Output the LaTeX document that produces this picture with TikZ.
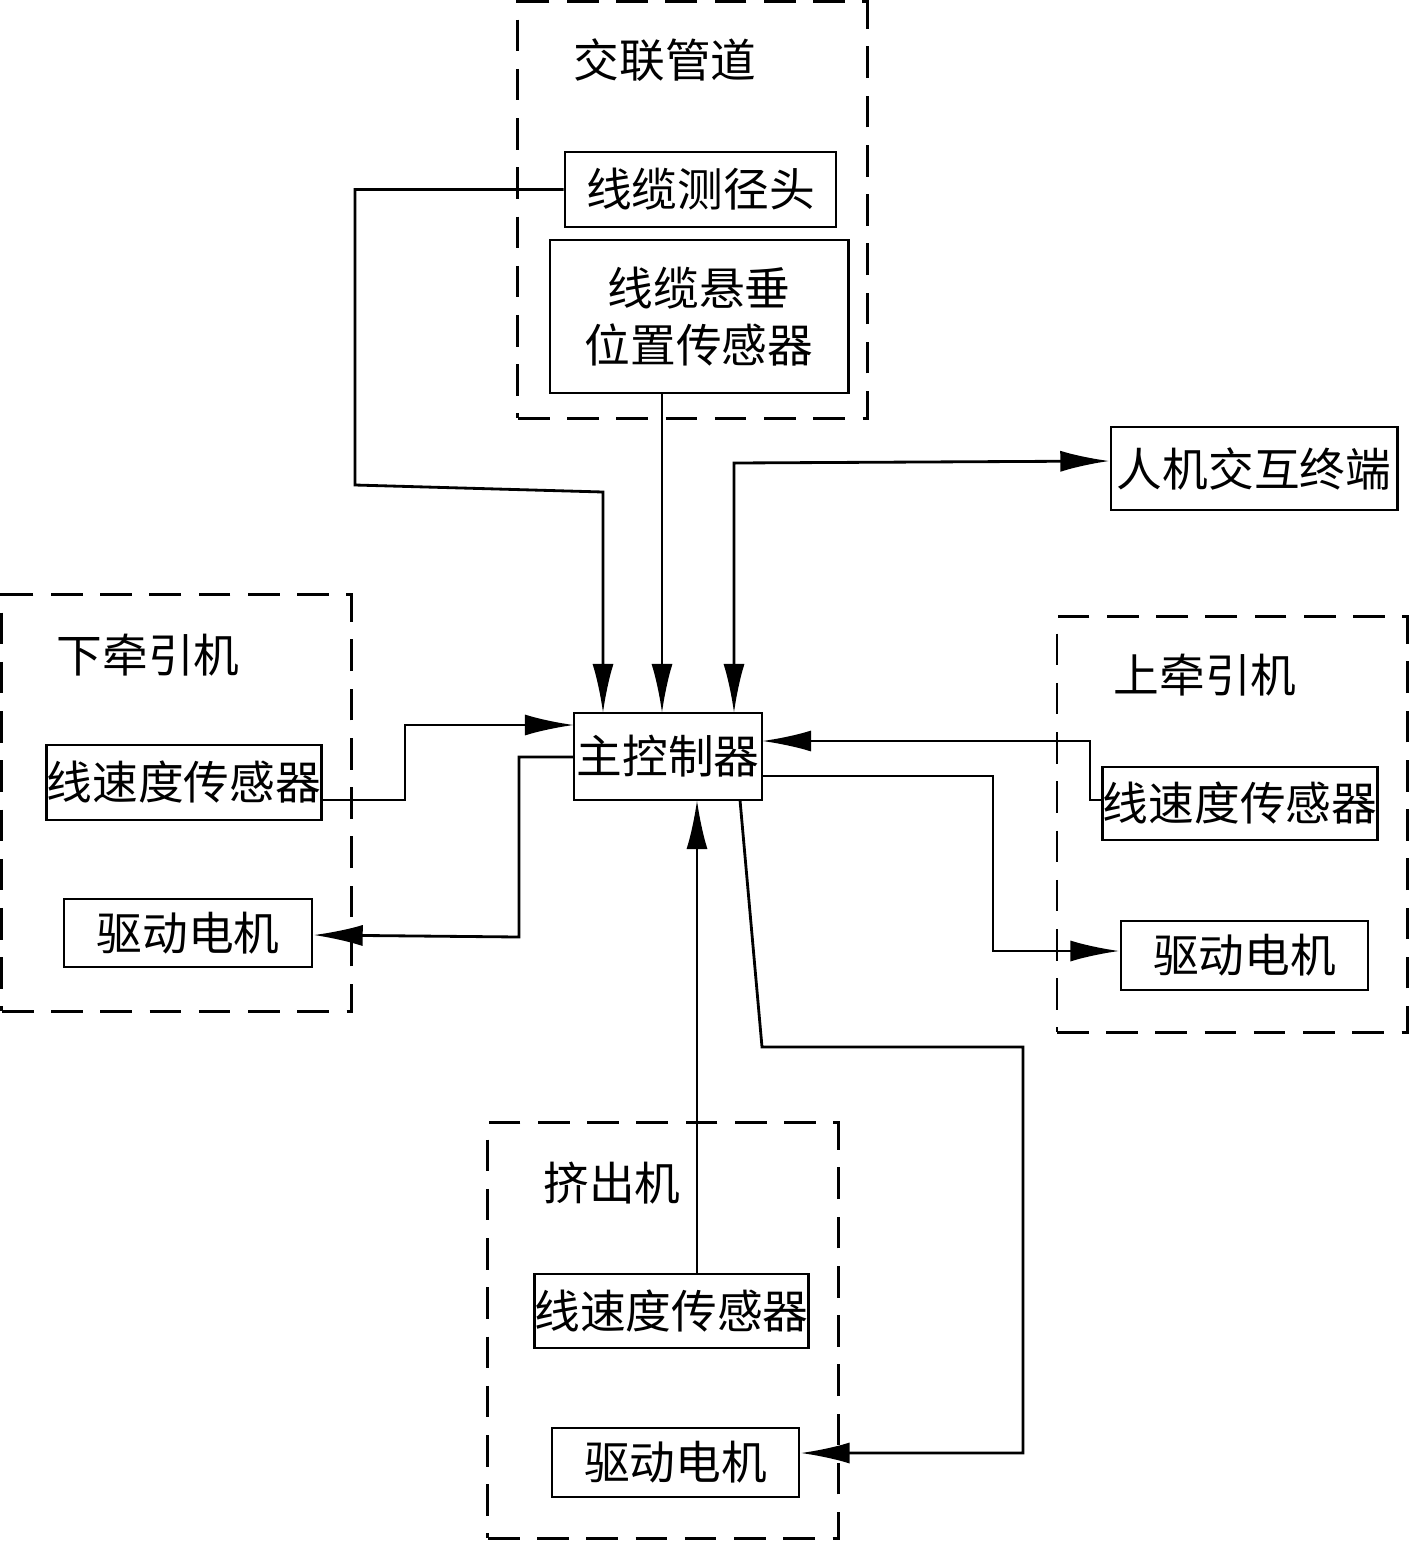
\documentclass[tikz,border=0pt]{standalone}
\usepackage{fontspec}
\newfontfamily\cjk{Noto Sans CJK SC}
\usetikzlibrary{positioning,arrows.meta}

\begin{document}
\begin{tikzpicture}[
    x=0.01cm, y=-0.01cm,
    font={\cjk\fontsize{13}{16}\selectfont},
    title/.style={inner sep=0pt},
    base/.style={draw,thick,rectangle,inner sep=0pt,align=center},
    group/.style={draw,thick,dashed,dash pattern=on 9pt off 5pt,rectangle,inner sep=0pt},
    link/.style={thick,-{Latex[length=14pt,width=6pt]}},
]
    \useasboundingbox (0,0) rectangle (1409,1542);

    % groups
    \node[group,minimum width=3.49cm,minimum height=4.16cm] (pipe) at (692.5,210) {};
    \node[group,minimum width=3.49cm,minimum height=4.16cm] (lowtr) at (176.5,803) {};
    \node[group,minimum width=3.50cm,minimum height=4.15cm] (uptr) at (1232,824.5) {};
    \node[group,minimum width=3.50cm,minimum height=4.15cm] (extr) at (663,1330.5) {};
    \node[title] at (665,60) {交联管道};
    \node[title] at (148,655) {下牵引机};
    \node[title] at (1205,675) {上牵引机};
    \node[title] at (612,1183) {挤出机};

    % blocks
    \node[base,minimum width=2.71cm,minimum height=0.75cm] (gauge) at (700.5,189.5) {线缆测径头};
    \node[base,minimum width=2.98cm,minimum height=1.53cm] (sag) at (699,316.5) {线缆悬垂\\位置传感器};
    \node[base,minimum width=2.86cm,minimum height=0.83cm] (hmi) at (1254,468.5) {人机交互终端};
    \node[base,minimum width=1.88cm,minimum height=0.87cm] (ctrl) at (668,756.5) {主控制器};
    \node[base,minimum width=2.70cm,minimum height=0.75cm] (lsens) at (184,782.5) {线速度传感器};
    \node[base,minimum width=2.48cm,minimum height=0.68cm] (lmot) at (188,933) {驱动电机};
    \node[base,minimum width=2.70cm,minimum height=0.73cm] (rsens) at (1240,803.5) {线速度传感器};
    \node[base,minimum width=2.47cm,minimum height=0.69cm] (rmot) at (1244.5,955.5) {驱动电机};
    \node[base,minimum width=2.69cm,minimum height=0.74cm] (bsens) at (671.5,1311) {线速度传感器};
    \node[base,minimum width=2.47cm,minimum height=0.69cm] (bmot) at (675.5,1462.5) {驱动电机};

    % connectors
    \draw[link] (gauge.west) -- (355,189.5) -- (355,485) -- (603,492) -- (603,713);
    \draw[link] (sag.south -| 662,0) -- (662,713);
    \draw[thick,{Latex[length=14pt,width=6pt]}-{Latex[length=14pt,width=6pt]}] (734,713) -- (734,463) -- (hmi.west |- 0,461);
    \draw[link] (lsens.east |- 0,800) -- (405,800) -- (405,725) -- (574,725);
    \draw[link] (574,757) -- (519,757) -- (519,937) -- (lmot.east |- 0,935);
    \draw[link] (rsens.west |- 0,800) -- (1090,800) -- (1090,741) -- (762,741);
    \draw[link] (762,776) -- (993,776) -- (993,951) -- (rmot.west |- 0,951);
    \draw[link] (bsens.north -| 697,0) -- (697,800);
    \draw[link] (740,800) -- (762,1047) -- (1023,1047) -- (1023,1453) -- (bmot.east |- 0,1453);
\end{tikzpicture}
\end{document}
